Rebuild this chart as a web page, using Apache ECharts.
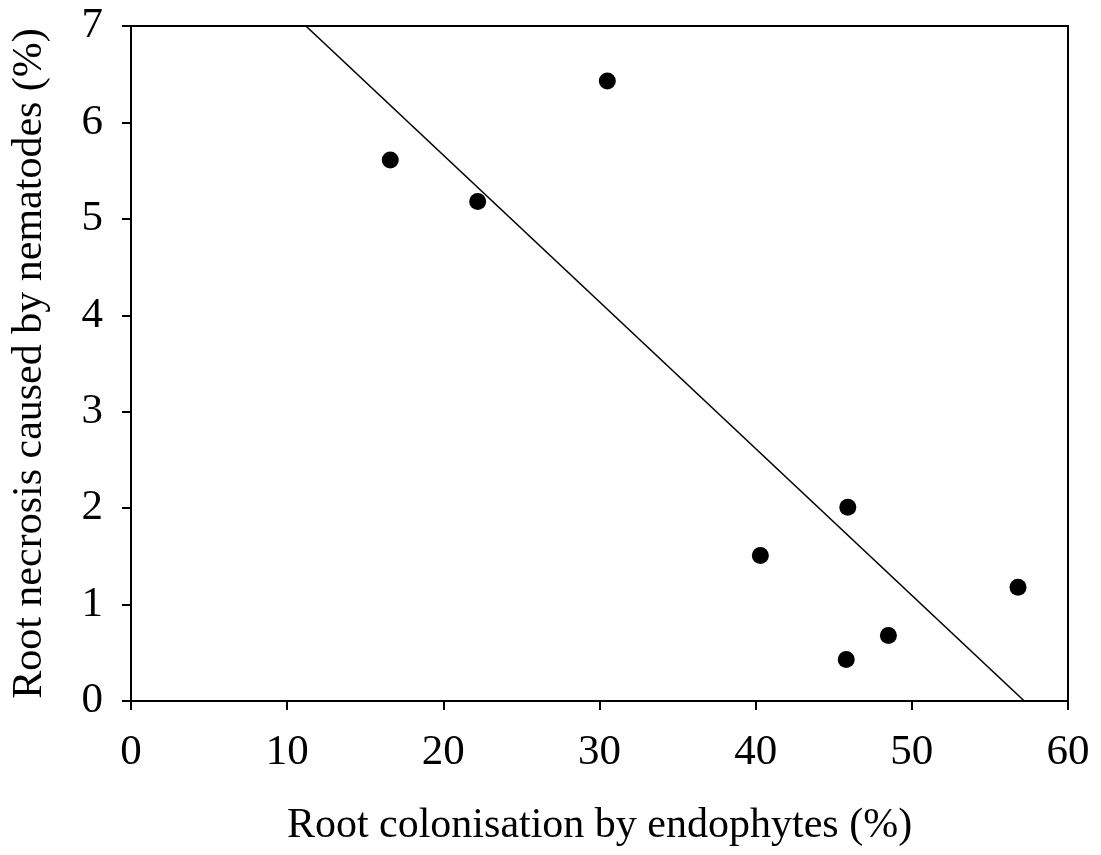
<!DOCTYPE html>
<html>
<head>
<meta charset="utf-8">
<script src="https://cdn.jsdelivr.net/npm/echarts@6/dist/echarts.min.js"></script>
<style>
html,body{margin:0;padding:0;background:#fff;}
#chart{width:1101px;height:855px;}
</style>
</head>
<body>
<div id="chart"></div>
<script>
// Data
var colonisation = [16.6, 22.2, 30.5, 40.3, 45.9, 45.8, 48.5, 56.8];
var necrosis = [5.61, 5.18, 6.43, 1.51, 2.01, 0.43, 0.68, 1.18];
// Regression line end points (as drawn)
var trendX = [11.2, 57.2];
var trendY = [7, 0];

var xTitle = 'Root colonisation by endophytes (%)';
var yTitle = 'Root necrosis caused by nematodes (%)';

var points = colonisation.map(function (x, i) { return [x, necrosis[i]]; });
var trend = trendX.map(function (x, i) { return [x, trendY[i]]; });

var FONT = '"Liberation Serif", "Times New Roman", "DejaVu Serif", serif';

var chart = echarts.init(document.getElementById('chart'), null, {renderer: 'canvas'});
chart.setOption({
  animation: false,
  backgroundColor: '#ffffff',
  grid: {
    left: 131, right: 33, top: 26, bottom: 154,
    show: true, borderColor: '#000', borderWidth: 2, backgroundColor: 'transparent'
  },
  xAxis: {
    type: 'value', min: 0, max: 60, interval: 10,
    name: xTitle, nameLocation: 'middle', nameGap: 104,
    nameTextStyle: {fontFamily: FONT, fontSize: 42, color: '#000'},
    axisLine: {show: true, onZero: false, lineStyle: {color: '#000', width: 2}},
    axisTick: {show: true, inside: false, length: 9, lineStyle: {color: '#000', width: 2}},
    axisLabel: {fontFamily: FONT, fontSize: 43, color: '#000', margin: 30},
    splitLine: {show: false}
  },
  yAxis: {
    type: 'value', min: 0, max: 7, interval: 1,
    name: yTitle, nameLocation: 'middle', nameGap: 80, nameRotate: 90,
    nameTextStyle: {fontFamily: FONT, fontSize: 42, color: '#000'},
    axisLine: {show: true, onZero: false, lineStyle: {color: '#000', width: 2}},
    axisTick: {show: true, inside: false, length: 9, lineStyle: {color: '#000', width: 2}},
    axisLabel: {fontFamily: FONT, fontSize: 43, color: '#000', margin: 28},
    splitLine: {show: false}
  },
  series: [
    {
      type: 'line', data: trend, symbol: 'none', silent: true,
      lineStyle: {color: '#000', width: 1.6}, z: 2
    },
    {
      type: 'scatter', data: points, symbol: 'circle', symbolSize: 17,
      itemStyle: {color: '#000', opacity: 1}, z: 3
    }
  ]
});
</script>
</body>
</html>
